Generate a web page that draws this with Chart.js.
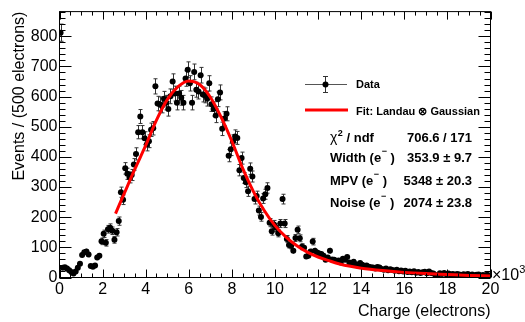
<!DOCTYPE html>
<html><head><meta charset="utf-8">
<script src="https://cdn.jsdelivr.net/npm/chart.js@4.4.1/dist/chart.umd.min.js"></script>
<style>html,body{margin:0;padding:0;background:#fff}#wrap{width:525px;height:322px}canvas{display:block}</style>
</head><body>
<div id="wrap"><canvas id="c" width="525" height="322"></canvas></div>
<script>
// Bin centres (units of 10^3 electrons)
const binCenters = [
0.05,0.15,0.25,0.35,0.45,0.55,0.65,0.75,0.85,0.95,
1.05,1.15,1.25,1.35,1.45,1.55,1.65,1.75,1.85,1.95,
2.05,2.15,2.25,2.35,2.45,2.55,2.65,2.75,2.85,2.95,
3.05,3.15,3.25,3.35,3.45,3.55,3.65,3.75,3.85,3.95,
4.05,4.15,4.25,4.35,4.45,4.55,4.65,4.75,4.85,4.95,
5.05,5.15,5.25,5.35,5.45,5.55,5.65,5.75,5.85,5.95,
6.05,6.15,6.25,6.35,6.45,6.55,6.65,6.75,6.85,6.95,
7.05,7.15,7.25,7.35,7.45,7.55,7.65,7.75,7.85,7.95,
8.05,8.15,8.25,8.35,8.45,8.55,8.65,8.75,8.85,8.95,
9.05,9.15,9.25,9.35,9.45,9.55,9.65,9.75,9.85,9.95,
10.05,10.15,10.25,10.35,10.45,10.55,10.65,10.75,10.85,10.95,
11.05,11.15,11.25,11.35,11.45,11.55,11.65,11.75,11.85,11.95,
12.05,12.15,12.25,12.35,12.45,12.55,12.65,12.75,12.85,12.95,
13.05,13.15,13.25,13.35,13.45,13.55,13.65,13.75,13.85,13.95,
14.05,14.15,14.25,14.35,14.45,14.55,14.65,14.75,14.85,14.95,
15.05,15.15,15.25,15.35,15.45,15.55,15.65,15.75,15.85,15.95,
16.05,16.15,16.25,16.35,16.45,16.55,16.65,16.75,16.85,16.95,
17.05,17.15,17.25,17.35,17.45,17.55,17.65,17.75,17.85,17.95,
18.05,18.15,18.25,18.35,18.45,18.55,18.65,18.75,18.85,18.95,
19.05,19.15,19.25,19.35,19.45,19.55,19.65,19.75,19.85,19.95
];
// Events per bin
const counts = [
812,32,34,30,24,18,13,20,32,46,
75,84,86,76,38,36,40,66,72,120,
145,115,160,165,155,125,150,187,283,258,
362,344,332,340,375,410,482,534,482,462,
441,452,490,495,634,577,575,570,593,580,
559,601,650,610,580,610,596,580,660,689,
644,580,682,623,617,671,607,604,593,644,
575,559,537,591,614,493,527,543,404,425,
452,468,463,356,396,330,316,286,361,335,
260,270,222,201,262,276,297,182,153,176,
165,147,179,260,179,128,108,105,89,131,
158,130,102,99,70,72,86,119,89,83,
80,78,72,59,66,89,60,59,55,56,
50,62,59,68,50,46,52,44,40,48,
42,38,40,36,34,33,30,35,33,28,
26,30,24,27,25,22,26,21,23,20,
22,18,20,17,21,16,18,15,17,19,
14,20,15,13,8,5,14,12,15,11,
13,10,12,9,12,10,8,11,9,12,
8,10,7,9,10,6,8,7,9,6
];
// Fit curve (Landau (x) Gaussian)
const fitX = [2.6,3.0,3.5,4.0,4.5,5.0,5.5,6.0,6.5,7.0,7.5,8.0,8.5,9.0,9.5,10.0,10.5,11.0,11.5,12.0,12.5,13.0,13.5,14.0,15.0,16.0,17.0,18.0,19.0,20.0];
const fitY = [212,278,360,438,522,590,633,652,640,598,532,452,362,285,222,172,135,106,84,68,56,45,37,31,23,17,13,10,7,5];

const xTickStep = 2;
const yTickStep = 100;
const legendData = "Data";
const legendFit = "Fit: Landau \u2297 Gaussian";
const statLabels = ["Width (e", "MPV (e", "Noise (e"];
const statValues = ["353.9 \u00b1 9.7", "5348 \u00b1 20.3", "2074 \u00b1 23.8"];
const chiValue = "706.6 / 171";

const FONT = "'Liberation Sans', Arial, Helvetica, sans-serif";

const rootPlugin = {
  id: 'rootStyle',
  beforeDatasetsDraw(chart) {
    const {ctx, scales: {x, y}, chartArea: a} = chart;
    ctx.save();
    ctx.beginPath(); ctx.rect(a.left, a.top, a.right - a.left, a.bottom - a.top); ctx.clip();
    ctx.strokeStyle = '#333'; ctx.lineWidth = 1;
    ctx.beginPath();
    for (let i = 0; i < counts.length; i++) {
      const v = counts[i], e = Math.sqrt(v);
      const px = Math.round(x.getPixelForValue(binCenters[i])) + 0.5;
      const y1 = y.getPixelForValue(v + e), y2 = y.getPixelForValue(Math.max(v - e, 0));
      ctx.moveTo(px, y1); ctx.lineTo(px, y2);
      if (y2 - y1 > 6) {
        ctx.moveTo(px - 2, y1); ctx.lineTo(px + 2, y1);
        ctx.moveTo(px - 2, y2); ctx.lineTo(px + 2, y2);
      }
    }
    ctx.stroke();
    ctx.restore();
  },
  afterDraw(chart) {
    const {ctx, scales: {x, y}, chartArea: a} = chart;
    ctx.save();
    ctx.strokeStyle = '#000'; ctx.lineWidth = 1;
    // frame
    ctx.strokeRect(a.left, a.top, a.right - a.left, a.bottom - a.top);
    ctx.beginPath();
    // x ticks (bottom up, top down)
    for (let k = 0; k <= 40; k++) {
      const v = k * 0.5;
      const px = Math.round(x.getPixelForValue(v)) + 0.5;
      const len = (k % 4 === 0) ? 8 : 4;
      ctx.moveTo(px, a.bottom); ctx.lineTo(px, a.bottom - len);
      ctx.moveTo(px, a.top); ctx.lineTo(px, a.top + len);
    }
    // y ticks
    for (let k = 0; k * 20 <= y.max; k++) {
      const v = k * 20;
      const py = Math.round(y.getPixelForValue(v)) + 0.5;
      const len = (k % 5 === 0) ? 12 : 6;
      ctx.moveTo(a.left, py); ctx.lineTo(a.left + len, py);
      ctx.moveTo(a.right, py); ctx.lineTo(a.right - len, py);
    }
    ctx.stroke();

    // x10^3
    ctx.fillStyle = '#000';
    ctx.textBaseline = 'alphabetic'; ctx.textAlign = 'left';
    ctx.font = '16px ' + FONT;
    ctx.fillText('\u00d710', a.right + 1.5, 280);
    const w10 = ctx.measureText('\u00d710').width;
    ctx.font = '11px ' + FONT;
    ctx.fillText('3', a.right + 1.5 + w10, 273);

    // Legend: data entry
    ctx.strokeStyle = '#555'; ctx.lineWidth = 1;
    ctx.beginPath();
    ctx.moveTo(305, 84.5); ctx.lineTo(347, 84.5);
    ctx.stroke();
    ctx.strokeStyle = '#333';
    ctx.beginPath();
    ctx.moveTo(325.5, 76); ctx.lineTo(325.5, 92.5);
    ctx.moveTo(323, 76.5); ctx.lineTo(328, 76.5);
    ctx.moveTo(323, 92.5); ctx.lineTo(328, 92.5);
    ctx.stroke();
    ctx.fillStyle = '#000';
    ctx.beginPath(); ctx.arc(325.5, 84.5, 3, 0, Math.PI * 2); ctx.fill();
    // fit entry
    ctx.strokeStyle = '#ff0000'; ctx.lineWidth = 3;
    ctx.beginPath(); ctx.moveTo(305, 110); ctx.lineTo(348, 110); ctx.stroke();

    ctx.fillStyle = '#000';
    ctx.font = 'bold 11px ' + FONT;
    ctx.fillText(legendData, 356, 88.3);
    ctx.fillText(legendFit, 356, 115);

    // Stats
    const sx = 330, vx = 472;
    // chi2 / ndf
    ctx.font = '14px ' + FONT;
    ctx.fillText('\u03c7', sx, 141.7);
    let cx = sx + ctx.measureText('\u03c7').width;
    ctx.font = 'bold 9px ' + FONT;
    ctx.fillText('2', cx + 0.5, 135.5);
    cx += ctx.measureText('2').width + 0.5;
    ctx.font = 'bold 13px ' + FONT;
    ctx.fillText(' / ndf', cx, 141.7);
    ctx.textAlign = 'right';
    ctx.fillText(chiValue, vx, 141.7);
    ctx.textAlign = 'left';
    const bases = [162.3, 185, 207.3];
    for (let i = 0; i < statLabels.length; i++) {
      const b = bases[i];
      ctx.font = 'bold 13px ' + FONT;
      ctx.fillText(statLabels[i], sx, b);
      let lx = sx + ctx.measureText(statLabels[i]).width;
      ctx.font = 'bold 9px ' + FONT;
      ctx.fillText('\u2212', lx + 0.5, b - 8);
      lx += ctx.measureText('\u2212').width + 0.5;
      ctx.font = 'bold 13px ' + FONT;
      ctx.fillText(' )', lx, b);
      ctx.textAlign = 'right';
      ctx.fillText(statValues[i], vx, b);
      ctx.textAlign = 'left';
    }
    ctx.restore();
  }
};

const chart = new Chart(document.getElementById('c'), {
  type: 'scatter',
  data: {
    datasets: [
      {
        type: 'line',
        label: 'Fit',
        data: fitX.map((v, i) => ({x: v, y: fitY[i]})),
        borderColor: '#ff0000',
        borderWidth: 3,
        pointRadius: 0,
        fill: false,
        cubicInterpolationMode: 'monotone'
      },
      {
        label: 'Data',
        data: binCenters.map((v, i) => ({x: v, y: counts[i]})),
        backgroundColor: '#000',
        borderColor: '#000',
        borderWidth: 0,
        pointRadius: 3,
        pointHoverRadius: 3
      }
    ]
  },
  options: {
    responsive: false,
    animation: false,
    events: [],
    layout: {padding: {top: 2.5, right: 34.5, left: 0, bottom: 0}},
    plugins: {legend: {display: false}, tooltip: {enabled: false}},
    scales: {
      x: {
        type: 'linear', min: 0, max: 20,
        grid: {display: false, drawTicks: false},
        border: {display: false},
        ticks: {stepSize: xTickStep, autoSkip: false, maxRotation: 0, padding: 2, color: '#000',
          font: {family: FONT, size: 16},
          callback: v => (Math.abs(v % xTickStep) < 1e-9 ? String(v) : '')},
        title: {display: true, text: 'Charge (electrons)', align: 'end', color: '#000',
          font: {family: FONT, size: 16}, padding: {top: 0, bottom: 1}},
        afterFit: s => { s.height = 44.5; }
      },
      y: {
        type: 'linear', min: 0, max: 882,
        grid: {display: false, drawTicks: false},
        border: {display: false},
        ticks: {stepSize: yTickStep, autoSkip: false, padding: 2, color: '#000',
          font: {family: FONT, size: 16},
          callback: v => (v % yTickStep === 0 ? String(v) : '')},
        title: {display: true, text: 'Events / (500 electrons)', align: 'end', color: '#000',
          font: {family: FONT, size: 16}, padding: {top: 9.5, bottom: 0}},
        afterFit: s => { s.width = 59.5; }
      }
    }
  },
  plugins: [rootPlugin]
});
</script>
</body></html>
